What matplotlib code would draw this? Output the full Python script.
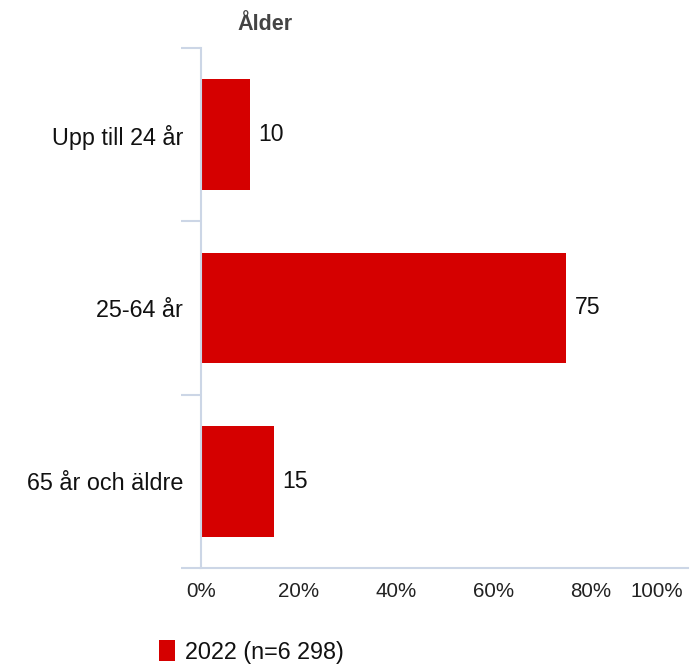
import matplotlib
matplotlib.use('Agg')
import matplotlib.pyplot as plt
import matplotlib.transforms as mtransforms

plt.rcParams['font.family'] = ['Liberation Sans', 'DejaVu Sans']

# Andel per åldersgrupp (procent)
categories = ['Upp till 24 år', '25-64 år', '65 år och äldre']
values = [10, 75, 15]
xticks = [0, 20, 40, 60, 80, 100]
xtick_labels = ['0%', '20%', '40%', '60%', '80%', '100%']
series_name = '2022 (n=6 298)'

BAR_RED = '#d50000'
AXIS_COL = '#ccd6e6'
TEXT_COL = '#111111'

fig = plt.figure(figsize=(6.98, 6.68), dpi=100)
ax = fig.add_axes([0.288, 0.1497, 0.6977, 0.7785])

y = list(range(len(categories)))
bars = ax.barh(y, values, height=0.64, color=BAR_RED, linewidth=0, label=series_name)
ax.bar_label(bars, labels=[str(v) for v in values], padding=6, fontsize=16.6, color=TEXT_COL)

ax.set_xlim(0, 100)
ax.set_ylim(len(categories) - 0.5, -0.5)

ax.set_xticks(xticks)
ax.set_xticklabels(xtick_labels, fontsize=14.8, color='#222222')
ax.tick_params(axis='x', length=0, pad=10)
# sista etiketten flyttas in så att den ryms
last = ax.get_xticklabels()[-1]
last.set_ha('right')
last.set_transform(last.get_transform() + mtransforms.ScaledTranslation(-5 / 100, 0, fig.dpi_scale_trans))

ax.set_yticks(y)
ax.set_yticklabels(categories, fontsize=16.8, color=TEXT_COL)
ax.tick_params(axis='y', which='major', length=0, pad=13)
ax.set_yticks([i - 0.5 for i in range(len(categories) + 1)], minor=True)
ax.tick_params(axis='y', which='minor', length=14.4, width=1.5, color=AXIS_COL, direction='out')

for side in ['top', 'right']:
    ax.spines[side].set_visible(False)
for side in ['left', 'bottom']:
    ax.spines[side].set_color(AXIS_COL)
    ax.spines[side].set_linewidth(1.5)

fig.text(0.38, 0.964, 'Ålder', fontsize=15.5, fontweight='bold', color='#444444',
         ha='center', va='center')

ax.legend(loc='center left', bbox_to_anchor=(0.228, 0.024), bbox_transform=fig.transFigure,
          frameon=False, fontsize=16.8, handlelength=0.69, handleheight=1.0,
          handletextpad=0.43, borderpad=0, borderaxespad=0, labelcolor=TEXT_COL)

fig.savefig('out.png', dpi=100)
